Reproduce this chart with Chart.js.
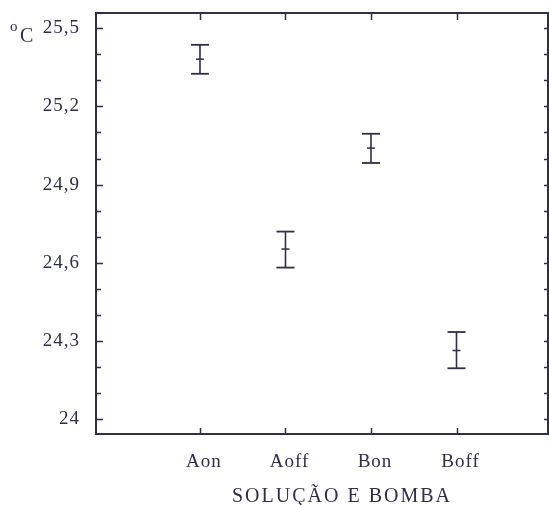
<!DOCTYPE html>
<html>
<head>
<meta charset="utf-8">
<script src="https://cdn.jsdelivr.net/npm/chart.js@4.4.1/dist/chart.umd.min.js"></script>
<style>
  html, body { margin: 0; padding: 0; background: #fff; overflow: hidden; }
  canvas { display: block; }
</style>
</head>
<body>
<canvas id="grafico" width="549" height="505"></canvas>
<script>
// dados (média e intervalo)
const categorias = ['Aon', 'Aoff', 'Bon', 'Boff'];
const medias = [25.381, 24.653, 25.040, 24.264];
const limInf = [25.325, 24.582, 24.983, 24.196];
const limSup = [25.436, 24.720, 25.095, 24.335];
const yRotulos = [24, 24.3, 24.6, 24.9, 25.2, 25.5];
const tituloX = 'SOLUÇÃO E BOMBA';
const unidadeY = ['o', 'C'];

const tinta = '#2f2f45';
Chart.defaults.font.family = '"Liberation Serif", "Times New Roman", serif';
Chart.defaults.font.size = 19;
Chart.defaults.color = tinta;

// uma série por categoria: segmento vertical com "tampas" (pointStyle line)
const barras = categorias.map(function(c, i){
  return {
    label: c,
    data: [{ x: i, y: limInf[i] }, { x: i, y: limSup[i] }],
    showLine: true,
    borderColor: tinta, borderWidth: 1.6,
    pointStyle: 'line', pointRadius: 9, pointBorderWidth: 1.8,
    pointBorderColor: tinta, pointHoverRadius: 9
  };
});
barras.push({
  label: 'média',
  data: medias.map(function(m, i){ return { x: i, y: m }; }),
  showLine: false,
  pointStyle: 'line', pointRadius: 4, pointBorderWidth: 1.5,
  pointBorderColor: tinta, borderColor: tinta
});

const moldura = {
  id: 'moldura',
  beforeDraw(chart){ chart.ctx.letterSpacing = '1px'; },
  afterDraw(chart){
    const ctx = chart.ctx, a = chart.chartArea, x = chart.scales.x, y = chart.scales.y;
    ctx.save();
    ctx.strokeStyle = tinta;
    ctx.lineWidth = 2;
    ctx.strokeRect(a.left, a.top, a.right - a.left, a.bottom - a.top);
    ctx.lineWidth = 1.5;
    ctx.beginPath();
    y.ticks.forEach(function(t){
      const py = Math.round(y.getPixelForValue(t.value)) + 0.5;
      const len = t.label ? 7 : 5;
      ctx.moveTo(a.left, py); ctx.lineTo(a.left + len, py);
      ctx.moveTo(a.right, py); ctx.lineTo(a.right - 4, py);
    });
    x.ticks.forEach(function(t){
      const px = Math.round(x.getPixelForValue(t.value)) + 0.5;
      ctx.moveTo(px, a.bottom); ctx.lineTo(px, a.bottom - 6);
      ctx.moveTo(px, a.top); ctx.lineTo(px, a.top + 7);
    });
    ctx.stroke();

    ctx.fillStyle = tinta;
    ctx.textBaseline = 'alphabetic';
    ctx.textAlign = 'center';
    ctx.letterSpacing = '2px';
    ctx.font = '20px "Liberation Serif", serif';
    ctx.fillText(tituloX, 342, 502);
    ctx.letterSpacing = '0px';
    ctx.textAlign = 'left';
    ctx.font = '15px "Liberation Serif", serif';
    ctx.fillText(unidadeY[0], 10, 31);
    ctx.font = '20px "Liberation Serif", serif';
    ctx.fillText(unidadeY[1], 20, 42);
    ctx.restore();
  }
};

new Chart(document.getElementById('grafico'), {
  type: 'scatter',
  data: { datasets: barras },
  plugins: [moldura],
  options: {
    responsive: false,
    animation: false,
    layout: { autoPadding: false, padding: { top: 13, right: 1, left: 0, bottom: 0 } },
    plugins: { legend: { display: false }, tooltip: { enabled: false } },
    scales: {
      x: {
        type: 'linear', min: -1.216, max: 4.07,
        grid: { display: false }, border: { display: false },
        afterBuildTicks: function(s){ s.ticks = categorias.map(function(c, i){ return { value: i }; }); },
        afterFit: function(s){ s.height = 71; s.paddingLeft = 0; s.paddingRight = 0; },
        ticks: {
          padding: 9, labelOffset: 4, autoSkip: false, maxRotation: 0,
          callback: function(v){ return categorias[v] || ''; }
        }
      },
      y: {
        type: 'linear', min: 23.944, max: 25.558,
        grid: { display: false }, border: { display: false },
        afterFit: function(s){ s.width = 96; s.paddingTop = 0; s.paddingBottom = 0; },
        ticks: {
          stepSize: 0.1, includeBounds: false, autoSkip: false, padding: 8,
          callback: function(v){
            const r = Math.round(v * 10) / 10;
            return yRotulos.some(function(m){ return Math.abs(m - r) < 1e-6; }) ? String(r).replace('.', ',') : '';
          }
        }
      }
    }
  }
});
</script>
</body>
</html>
